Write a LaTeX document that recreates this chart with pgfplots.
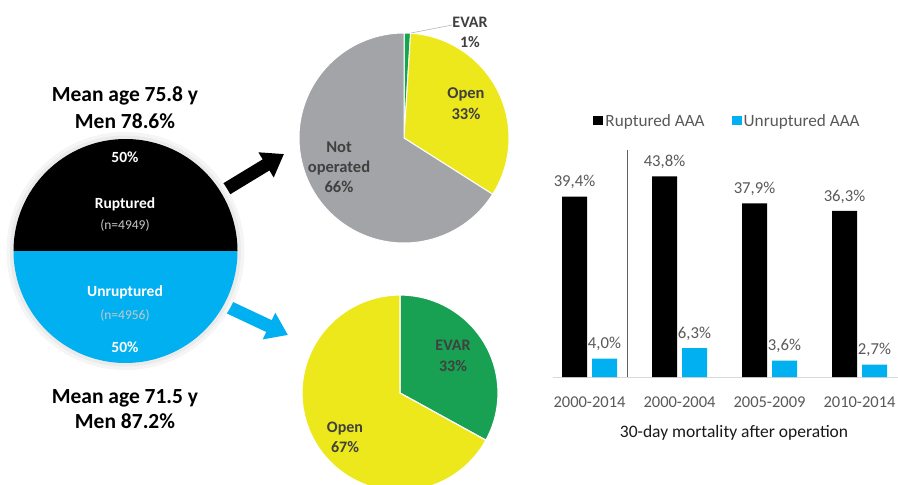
\documentclass[border=0pt]{standalone}
\usepackage{pgfplots}
\pgfplotsset{compat=1.18}
\usepackage{fontspec}
\setmainfont{Carlito}
\usetikzlibrary{arrows.meta}
\definecolor{pieblue}{HTML}{00B0F0}
\definecolor{piegray}{HTML}{A3A4A7}
\definecolor{pieyellow}{HTML}{EDE81C}
\definecolor{piegreen}{HTML}{14A550}
\definecolor{piegreenb}{HTML}{18A152}
\definecolor{pietext}{HTML}{404040}
\definecolor{labgray}{HTML}{595959}
\definecolor{axisgray}{HTML}{D9D9D9}
\definecolor{sepgray}{HTML}{606060}
\definecolor{ngray}{HTML}{C8C8C8}
\pgfplotsset{sqlegend/.style={legend image code/.code={\fill[##1] (0pt,-4.5pt) rectangle (10pt,4.5pt);}}}
% pie data (percent)
\def\aRupt{50}\def\aUnrupt{50}
\def\rEVAR{1}\def\rOpen{33}\def\rNot{66}
\def\uEVAR{33}\def\uOpen{67}
\begin{document}
\begin{tikzpicture}[x=1pt,y=-1pt]
\useasboundingbox (0,0) rectangle (898,485);
\clip (0,0) rectangle (898,485);
\fill[white] (0,0) rectangle (898,485);

% arrows
\draw[line width=13pt, -{Triangle[length=21pt,width=28pt]}] (205,202) -- (284,154);
\draw[line width=13pt, pieblue, -{Triangle[length=21pt,width=28pt]}] (205,296) -- (288,335);

% big pie
\begin{axis}[at={(125.5pt,-251pt)}, anchor=origin, x=1pt, y=1pt,
  xmin=-120, xmax=120, ymin=-120, ymax=120, hide axis, clip=false]
  \fill[black!4] (0,0) circle[radius=119pt];
  \fill[black!8] (0,0) circle[radius=115.5pt];
  \pgfmathsetmacro{\bA}{180-3.6*\aRupt}
  \fill[black] (0,0) -- ++(180:112pt) arc[start angle=180, end angle=\bA, radius=112pt] -- cycle;
  \fill[pieblue] (0,0) -- ++(\bA:112pt) arc[start angle=\bA, end angle={\bA-3.6*\aUnrupt}, radius=112pt] -- cycle;
\end{axis}

% top pie (ruptured)
\begin{axis}[at={(404pt,-138pt)}, anchor=origin, x=1pt, y=1pt,
  xmin=-110, xmax=110, ymin=-110, ymax=110, hide axis, clip=false]
  \pgfmathsetmacro{\tA}{90-3.6*\rEVAR}
  \pgfmathsetmacro{\tB}{\tA-3.6*\rOpen}
  \pgfmathsetmacro{\tC}{\tB-3.6*\rNot}
  \filldraw[piegreen, draw=white, line width=1pt] (0,0) -- ++(90:105pt) arc[start angle=90, end angle=\tA, radius=105pt] -- cycle;
  \filldraw[pieyellow, draw=white, line width=1pt] (0,0) -- ++(\tA:105pt) arc[start angle=\tA, end angle=\tB, radius=105pt] -- cycle;
  \filldraw[piegray, draw=white, line width=1pt] (0,0) -- ++(\tB:105pt) arc[start angle=\tB, end angle=\tC, radius=105pt] -- cycle;
\end{axis}

% bottom pie (unruptured)
\begin{axis}[at={(400pt,-393pt)}, anchor=origin, x=1pt, y=1pt,
  xmin=-110, xmax=110, ymin=-110, ymax=110, hide axis, clip=false]
  \pgfmathsetmacro{\uA}{90-3.6*\uEVAR}
  \pgfmathsetmacro{\uB}{\uA-3.6*\uOpen}
  \filldraw[piegreenb, draw=white, line width=1.2pt] (0,0) -- ++(90:98pt) arc[start angle=90, end angle=\uA, radius=98pt] -- cycle;
  \filldraw[pieyellow, draw=white, line width=1.2pt] (0,0) -- ++(\uA:98pt) arc[start angle=\uA, end angle=\uB, radius=98pt] -- cycle;
\end{axis}

% bar chart
\begin{axis}[at={(589.5pt,-377pt)}, anchor=origin, x=90pt, y=4.58pt,
  xmin=-0.405, xmax=3.45, ymin=0, ymax=50,
  ybar=5pt, bar width=25pt,
  axis x line*=bottom, axis y line=none,
  x axis line style={draw=axisgray, line width=0.8pt, -},
  xtick={0,1,2,3},
  xticklabels={2000-2014,2000-2004,2005-2009,2010-2014},
  major tick length=0pt, ytick=\empty,
  xticklabel style={font=\fontsize{16.5}{18}\selectfont, text=labgray, anchor=center, yshift=-25pt},
  xlabel={30-day mortality after operation},
  xlabel style={at={(axis description cs:0.5216,-0.2445)}, anchor=center, font=\fontsize{17.5}{20}\selectfont, text=black!90},
  nodes near coords, point meta=explicit symbolic,
  every node near coord/.append style={font=\fontsize{16.7}{18}\selectfont, text=labgray, anchor=south, inner sep=0pt, yshift=7.4pt},
  legend columns=2,
  legend style={draw=none, fill=none, at={(0.503,1.118)}, anchor=center,
    font=\fontsize{17.2}{20}\selectfont, text=labgray,
    /tikz/every even column/.append style={column sep=25pt}},
  clip=false]
\addplot[fill=black, draw=none, sqlegend]
  coordinates {(0,39.4)[39,4\%] (1,43.8)[43,8\%] (2,37.9)[37,9\%] (3,36.3)[36,3\%]};
\addplot[fill=pieblue, draw=none, sqlegend]
  coordinates {(0,4.0)[4,0\%] (1,6.3)[6,3\%] (2,3.6)[3,6\%] (3,2.7)[2,7\%]};
\legend{Ruptured AAA, Unruptured AAA}
\draw[sepgray, line width=0.8pt] (axis cs:0.4167,0) -- (axis cs:0.4167,49.6);
\end{axis}

% texts left
\node[anchor=base, font=\bfseries\fontsize{21.5}{24}\selectfont] at (125,101.7) {Mean age 75.8 y};
\node[anchor=base, font=\bfseries\fontsize{21.5}{24}\selectfont] at (125,128.3) {Men 78.6\%};
\node[anchor=base, font=\bfseries\fontsize{21.5}{24}\selectfont] at (125,403) {Mean age 71.5 y};
\node[anchor=base, font=\bfseries\fontsize{21.5}{24}\selectfont] at (125,428.5) {Men 87.2\%};
\node[white, font=\bfseries\fontsize{15.5}{17}\selectfont] at (125,157) {50\%};
\node[white, font=\bfseries\fontsize{15.5}{17}\selectfont] at (125,204) {Ruptured};
\node[ngray, font=\fontsize{13.5}{15}\selectfont] at (125,225) {(n=4949)};
\node[white, font=\bfseries\fontsize{15.5}{17}\selectfont] at (125,292) {Unruptured};
\node[ngray, font=\fontsize{13.5}{15}\selectfont] at (125,315) {(n=4956)};
\node[white, font=\bfseries\fontsize{15.5}{17}\selectfont] at (125,347) {50\%};

% top pie labels
\draw[piegray!80, line width=0.6pt] (411,33) -- (452,25);
\node[pietext, font=\bfseries\fontsize{16}{20}\selectfont, align=center] at (470,32) {EVAR\\1\%};
\node[pietext, font=\bfseries\fontsize{16.5}{21}\selectfont, align=center] at (466,104) {Open\\33\%};
\node[pietext, font=\bfseries\fontsize{16.5}{20}\selectfont, align=center] at (339,167) {Not\\operated\\66\%};
% bottom pie labels
\node[pietext, font=\bfseries\fontsize{16}{21}\selectfont, align=center] at (453,356) {EVAR\\33\%};
\node[pietext, font=\bfseries\fontsize{16}{20}\selectfont, align=center] at (345,437) {Open\\67\%};
\end{tikzpicture}
\end{document}
